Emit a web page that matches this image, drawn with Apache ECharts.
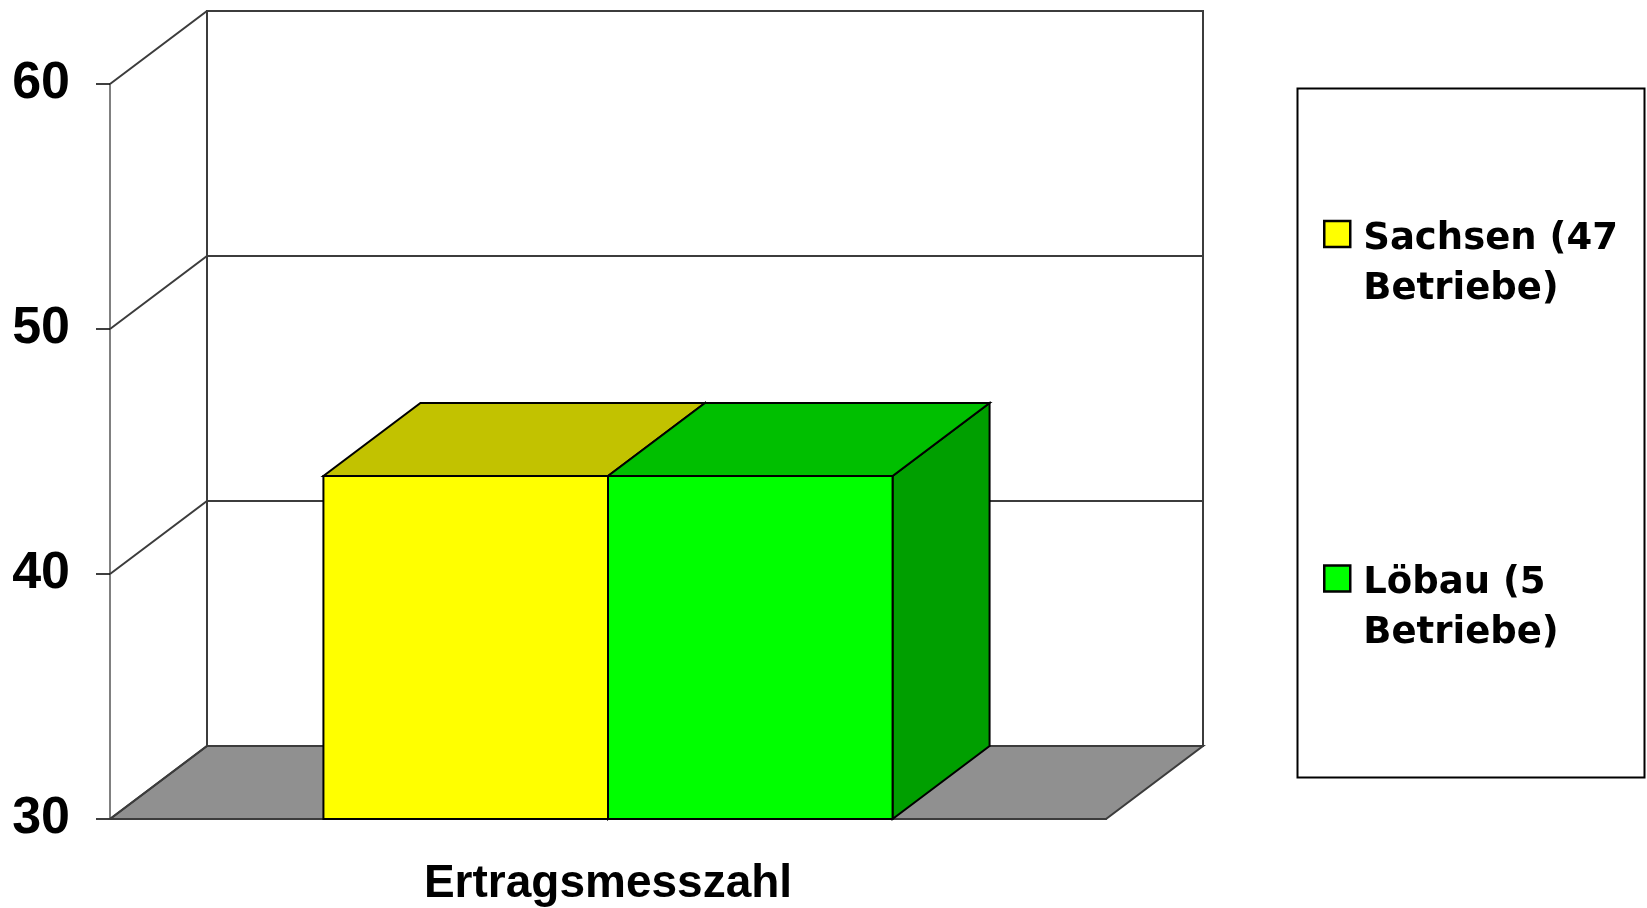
<!DOCTYPE html>
<html>
<head>
<meta charset="utf-8">
<script src="https://cdn.jsdelivr.net/npm/echarts@6/dist/echarts.min.js"></script>
<style>
  html, body { margin: 0; padding: 0; background: #fff; }
  #chart { width: 1647px; height: 908px; }
</style>
</head>
<body>
<div id="chart"></div>
<script>
// data
const categories = ["Ertragsmesszahl"];
const seriesNames = ["Sachsen (47\nBetriebe)", "Löbau (5\nBetriebe)"];
const seriesValues = [44, 44];
const yMin = 30;
const yMax = 60;
const yStep = 10;
const yTicks = [30, 40, 50, 60];

// 3d look
const DX = 97;   // depth, px to the right
const DY = 73;   // depth, px upwards
const GAP = 1.5; // excel gap width 150%
const LINE = "#3c3c3c";
const faceColors = [
  { front: "#ffff00", top: "#c2c200", side: "#a0a000" },
  { front: "#00ff00", top: "#00bf00", side: "#009f00" }
];

function renderWalls(params, api) {
  const cs = params.coordSys;
  const x0 = cs.x;
  const x1 = cs.x + cs.width;
  const yBase = api.coord([0, yMin])[1];
  const yTop = api.coord([0, yMax])[1];
  const children = [];

  // back wall
  children.push({
    type: "rect",
    shape: { x: x0 + DX, y: yTop - DY, width: x1 - x0, height: yBase - yTop },
    style: { fill: "#fff", stroke: LINE, lineWidth: 2 }
  });
  // floor
  children.push({
    type: "polygon",
    shape: { points: [[x0, yBase], [x1, yBase], [x1 + DX, yBase - DY], [x0 + DX, yBase - DY]] },
    style: { fill: "#909090", stroke: LINE, lineWidth: 2 }
  });
  // left wall back edge
  children.push({
    type: "line",
    shape: { x1: x0 + DX, y1: yTop - DY, x2: x0 + DX, y2: yBase - DY },
    style: { stroke: LINE, lineWidth: 2 }
  });
  // grid lines on left wall and back wall
  yTicks.forEach(v => {
    const y = api.coord([0, v])[1];
    children.push({
      type: "polyline",
      shape: { points: [[x0, y], [x0 + DX, y - DY], [x1 + DX, y - DY]] },
      style: { stroke: LINE, lineWidth: 2, fill: null }
    });
  });
  return { type: "group", children };
}

function renderBar(params, api) {
  const s = params.seriesIndex - 1;
  const n = seriesValues.length;
  const catW = api.size([1, 0])[0];
  const barW = catW / (n + GAP);
  const center = api.coord([api.value(0), yMin])[0];
  const xl = center - (barW * n) / 2 + s * barW;
  const xr = xl + barW;
  const yb = api.coord([api.value(0), yMin])[1];
  const yt = api.coord([api.value(0), api.value(1)])[1];
  const c = faceColors[s];
  const edge = { stroke: "#000", lineWidth: 2 };
  return {
    type: "group",
    children: [
      {
        type: "polygon",
        shape: { points: [[xr, yb], [xr, yt], [xr + DX, yt - DY], [xr + DX, yb - DY]] },
        style: Object.assign({ fill: c.side }, edge)
      },
      {
        type: "polygon",
        shape: { points: [[xl, yt], [xr, yt], [xr + DX, yt - DY], [xl + DX, yt - DY]] },
        style: Object.assign({ fill: c.top }, edge)
      },
      {
        type: "rect",
        shape: { x: xl, y: yt, width: barW, height: yb - yt },
        style: Object.assign({ fill: c.front }, edge)
      }
    ]
  };
}

const chart = echarts.init(document.getElementById("chart"));

const option = {
  animation: false,
  backgroundColor: "#fff",
  grid: { left: 110, right: 541, top: 84, bottom: 89 },
  xAxis: {
    type: "category",
    data: categories,
    axisLine: { lineStyle: { color: LINE, width: 2 } },
    axisTick: { length: 16, lineStyle: { color: "#000", width: 1.5 } },
    axisLabel: {
      color: "#000",
      fontFamily: "Liberation Sans",
      fontWeight: "bold",
      fontSize: 46,
      margin: 42
    }
  },
  yAxis: {
    type: "value",
    min: yMin,
    max: yMax,
    interval: yStep,
    axisLine: { show: true, lineStyle: { color: "#808080", width: 2 } },
    axisTick: { show: true, length: 14, lineStyle: { color: "#000", width: 1.5 } },
    axisLabel: {
      color: "#000",
      fontFamily: "Liberation Sans",
      fontWeight: "bold",
      fontSize: 52,
      margin: 40
    },
    splitLine: { show: false }
  },
  legend: {
    orient: "vertical",
    left: 1323,
    top: 179,
    padding: 0,
    itemWidth: 26,
    itemHeight: 26,
    itemGap: 216,
    icon: "rect",
    selectedMode: false,
    // a taller empty first line keeps the first text line level with the icon
    formatter: name => "{gap| }\n" + name.split("\n").map(l => "{t|" + l + "}").join("\n"),
    textStyle: {
      color: "#000",
      fontFamily: "DejaVu Sans",
      fontWeight: "bold",
      fontSize: 37,
      padding: [0, 0, 0, 8],
      rich: {
        gap: { fontSize: 10, lineHeight: 60 },
        t: {
          color: "#000",
          fontFamily: "DejaVu Sans",
          fontWeight: "bold",
          fontSize: 37,
          lineHeight: 50
        }
      }
    },
    data: seriesNames.map((name, i) => ({
      name,
      itemStyle: { color: faceColors[i].front, borderColor: "#000", borderWidth: 2.5 }
    }))
  },
  graphic: [
    {
      type: "rect",
      left: 1295,
      top: 86,
      shape: { width: 347, height: 689 },
      style: { fill: null, stroke: "#000", lineWidth: 2 }
    }
  ],
  series: [
    {
      type: "custom",
      z: 1,
      silent: true,
      renderItem: renderWalls,
      data: [[0, yMin]]
    }
  ].concat(seriesNames.map((name, i) => ({
    type: "custom",
    name,
    z: 2,
    renderItem: renderBar,
    itemStyle: { color: faceColors[i].front },
    encode: { x: 0, y: 1 },
    data: [[0, seriesValues[i]]]
  })))
};

chart.setOption(option);
</script>
</body>
</html>
